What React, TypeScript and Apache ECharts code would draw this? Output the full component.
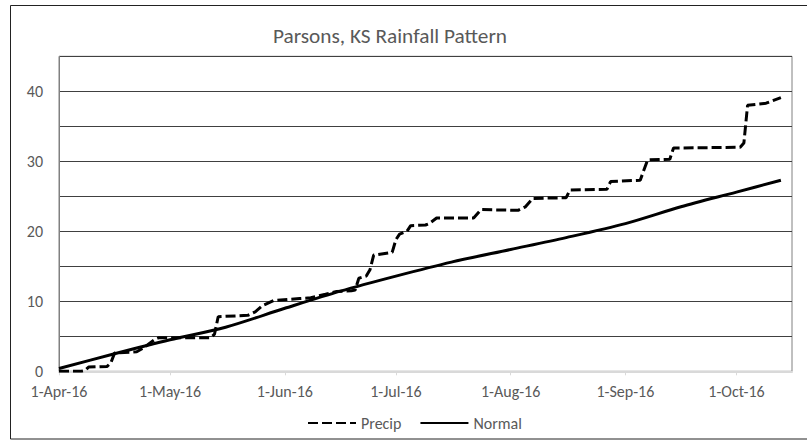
import React, { useEffect, useRef } from "react";
import * as echarts from "echarts";

const titleText = "Parsons, KS Rainfall Pattern";

const xTickDates = ["2016-04-01", "2016-05-01", "2016-06-01", "2016-07-01", "2016-08-01", "2016-09-01", "2016-10-01"];
const xTickLabels = ["1-Apr-16", "1-May-16", "1-Jun-16", "1-Jul-16", "1-Aug-16", "1-Sep-16", "1-Oct-16"];
const xMin = "2016-04-01";
const xMax = "2016-10-16";

const precipDates = [
  "2016-04-01", "2016-04-07", "2016-04-08", "2016-04-09", "2016-04-14", "2016-04-15", "2016-04-16",
  "2016-04-22", "2016-04-24", "2016-04-27", "2016-04-28", "2016-05-12", "2016-05-13", "2016-05-14",
  "2016-05-22", "2016-05-24", "2016-05-26", "2016-05-29", "2016-06-05", "2016-06-08", "2016-06-12",
  "2016-06-15", "2016-06-19", "2016-06-20", "2016-06-21", "2016-06-23", "2016-06-24", "2016-06-25",
  "2016-06-30", "2016-07-01", "2016-07-02", "2016-07-04", "2016-07-05", "2016-07-09", "2016-07-10",
  "2016-07-12", "2016-07-22", "2016-07-24", "2016-08-03", "2016-08-05", "2016-08-07", "2016-08-16",
  "2016-08-17", "2016-08-27", "2016-08-28", "2016-09-05", "2016-09-07", "2016-09-13", "2016-09-14",
  "2016-10-02", "2016-10-03", "2016-10-04", "2016-10-09", "2016-10-13",
];
const precipValues = [
  0, 0, 0.1, 0.6, 0.7, 1.2, 2.6,
  2.8, 3.4, 4.6, 4.8, 4.8, 5.3, 7.8,
  8.0, 8.5, 9.4, 10.1, 10.4, 10.5, 11.0,
  11.4, 11.5, 11.6, 13.3, 13.6, 14.5, 16.6,
  17.0, 18.8, 19.6, 20.0, 20.8, 20.9, 21.1,
  21.9, 21.9, 23.1, 23.0, 23.5, 24.7, 24.8,
  25.9, 26.0, 27.1, 27.3, 30.2, 30.3, 31.9,
  32.0, 32.6, 38.0, 38.3, 39.1,
];

const normalDates = [
  "2016-04-01", "2016-04-16", "2016-05-01", "2016-05-16", "2016-06-01", "2016-06-16", "2016-07-01",
  "2016-07-16", "2016-08-01", "2016-08-16", "2016-09-01", "2016-09-16", "2016-10-01", "2016-10-13",
];
const normalValues = [0.4, 2.5, 4.5, 6.3, 9.0, 11.45, 13.6, 15.6, 17.4, 19.1, 21.1, 23.5, 25.6, 27.3];

const seriesNames = ["Precip", "Normal"];

const ts = (s: string) => {
  const [y, m, d] = s.split("-").map(Number);
  return new Date(y, m - 1, d).getTime();
};

const FONT = 'Carlito, Calibri, "Open Sans", sans-serif';
const TEXT = "#595959";
const DAY = 86400000;

export default function App() {
  const ref = useRef<HTMLDivElement>(null);
  useEffect(() => {
    if (!ref.current) return;
    const chart = echarts.init(ref.current, undefined, { renderer: "svg" });
    const tickTs = xTickDates.map(ts);
    const labelFor = (v: number) => {
      const i = tickTs.indexOf(v);
      return i >= 0 ? xTickLabels[i] : "";
    };
    chart.setOption({
      animation: false,
      backgroundColor: "#fff",
      textStyle: { fontFamily: FONT },
      title: {
        text: titleText,
        left: 385,
        textAlign: "center",
        top: 20,
        textStyle: { fontFamily: FONT, fontSize: 21.3, fontWeight: "normal", color: TEXT },
      },
      graphic: [
        {
          type: "rect",
          shape: { x: 10.5, y: 5.5, width: 805, height: 433.5 },
          style: { fill: "none", stroke: "#222", lineWidth: 1 },
          z: 100,
          silent: true,
        },
      ],
      legend: {
        data: seriesNames,
        left: 302,
        top: 410,
        itemWidth: 48,
        itemHeight: 14,
        itemGap: 18,
        itemStyle: { opacity: 0 },
        textStyle: { fontFamily: FONT, fontSize: 16, color: TEXT },
      },
      grid: {
        left: 59,
        top: 56.3,
        right: 15,
        bottom: 68.7,
        show: true,
        borderColor: "#808080",
        borderWidth: 1,
        containLabel: false,
      },
      xAxis: {
        type: "time",
        min: ts(xMin),
        max: ts(xMax),
        minInterval: 28 * DAY,
        maxInterval: 32 * DAY,
        axisLine: { show: true, lineStyle: { color: "#d9d9d9", width: 2 } },
        axisTick: { show: true, length: 4, lineStyle: { color: "#d9d9d9", width: 1 } },
        axisLabel: {
          formatter: (v: number) => labelFor(v),
          margin: 12,
          fontFamily: FONT,
          fontSize: 16,
          color: TEXT,
          hideOverlap: false,
        },
        splitLine: { show: false },
      },
      yAxis: {
        type: "value",
        min: 0,
        max: 45,
        interval: 5,
        axisLine: { show: true, lineStyle: { color: "#808080", width: 1 } },
        axisTick: { show: false },
        axisLabel: {
          formatter: (v: number) => (v % 10 === 0 ? String(v) : ""),
          margin: 16,
          fontFamily: FONT,
          fontSize: 16,
          color: TEXT,
        },
        splitLine: { show: true, lineStyle: { color: "#404040", width: 1 } },
      },
      series: [
        {
          name: seriesNames[0],
          type: "line",
          symbol: "none",
          data: precipDates.map((d, i) => [ts(d), precipValues[i]]),
          lineStyle: { color: "#000", width: 3, type: [10, 4], cap: "butt" },
          itemStyle: { color: "#000" },
          z: 3,
        },
        {
          name: seriesNames[1],
          type: "line",
          symbol: "none",
          smooth: 0.3,
          data: normalDates.map((d, i) => [ts(d), normalValues[i]]),
          lineStyle: { color: "#000", width: 3 },
          itemStyle: { color: "#000" },
          z: 4,
        },
      ],
    });
    return () => chart.dispose();
  }, []);
  return (
    <div
      ref={ref}
      style={{ position: "fixed", left: 0, top: 0, width: 807, height: 440, background: "#fff" }}
    />
  );
}
